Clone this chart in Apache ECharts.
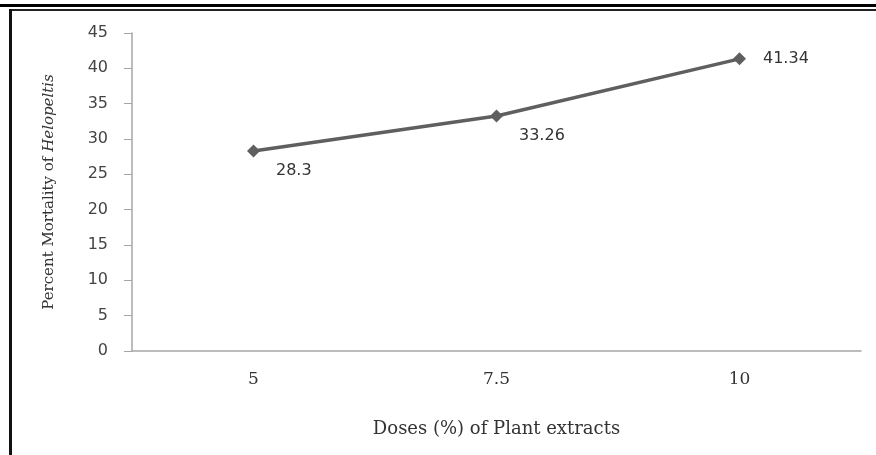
<!DOCTYPE html>
<html>
<head>
<meta charset="utf-8">
<script src="https://cdn.jsdelivr.net/npm/echarts@6/dist/echarts.min.js"></script>
<style>
  html, body { margin: 0; padding: 0; background: #fff; }
  #chart { width: 876px; height: 455px; }
</style>
</head>
<body>
<div id="chart"></div>
<script>
// Doses of plant extract (%) and mean mortality of Helopeltis
const doses = ['5', '7.5', '10'];
const mortality = [28.3, 33.26, 41.34];
const yTicks = { min: 0, max: 45, step: 5 };

const chart = echarts.init(document.getElementById('chart'), null, { renderer: 'canvas' });

const labelSerif = '"DejaVu Serif", "Liberation Serif", serif';
const labelSans = '"DejaVu Sans", Verdana, sans-serif';

const points = mortality.map((v, i) => {
  const last = i === mortality.length - 1;
  return {
    value: v,
    label: last
      ? { position: 'right', distance: 17, offset: [0, 0] }
      : { position: 'right', distance: 16, offset: [0, 20] }
  };
});

chart.setOption({
  animation: false,
  backgroundColor: '#fff',
  grid: { left: 132, right: 15, top: 33, bottom: 104 },
  xAxis: {
    type: 'category',
    data: doses,
    boundaryGap: true,
    axisLine: { lineStyle: { color: '#a6a6a6', width: 1.5 } },
    axisTick: { show: false },
    axisLabel: { color: '#333', fontFamily: labelSerif, fontSize: 17, margin: 20 },
    name: 'Doses (%) of Plant extracts',
    nameLocation: 'middle',
    nameGap: 69,
    nameTextStyle: { color: '#333', fontFamily: labelSerif, fontSize: 18 }
  },
  yAxis: {
    type: 'value',
    min: yTicks.min,
    max: yTicks.max,
    interval: yTicks.step,
    splitLine: { show: false },
    axisLine: { show: true, lineStyle: { color: '#a6a6a6', width: 1.5 } },
    axisTick: { show: true, length: 8, lineStyle: { color: '#a6a6a6' } },
    axisLabel: { color: '#444', fontFamily: labelSans, fontSize: 16, margin: 24 },
    name: '{a|Percent Mortality of }{b|Helopeltis}',
    nameLocation: 'middle',
    nameGap: 75,
    nameRotate: 90,
    nameTextStyle: {
      rich: {
        a: { color: '#333', fontFamily: labelSerif, fontSize: 15 },
        b: { color: '#333', fontFamily: labelSerif, fontSize: 15, fontStyle: 'italic' }
      }
    }
  },
  series: [{
    type: 'line',
    data: points,
    symbol: 'diamond',
    symbolSize: 13,
    lineStyle: { color: '#5f5f5f', width: 3.5 },
    itemStyle: { color: '#5f5f5f' },
    label: {
      show: true,
      color: '#333',
      fontFamily: labelSans,
      fontSize: 16
    }
  }],
  graphic: [
    { type: 'rect', shape: { x: 0, y: 4, width: 876, height: 3 }, style: { fill: '#000' }, silent: true },
    { type: 'rect', shape: { x: 9, y: 9, width: 867, height: 2 }, style: { fill: '#222' }, silent: true },
    { type: 'rect', shape: { x: 9, y: 9, width: 3, height: 446 }, style: { fill: '#111' }, silent: true }
  ]
});
</script>
</body>
</html>
